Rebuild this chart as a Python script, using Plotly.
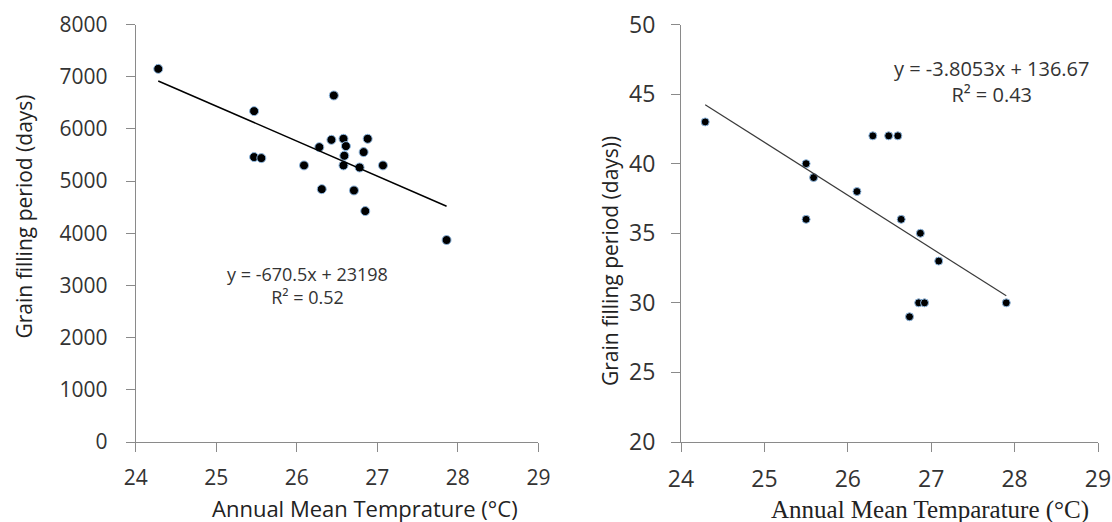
import plotly.graph_objects as go

# ---- data: left panel ----
temp_left = [24.28, 25.47, 25.47, 25.56, 26.09, 26.28, 26.43, 26.46, 26.58, 26.61,
             26.59, 26.58, 26.78, 26.83, 26.88, 27.07, 26.31, 26.71, 26.85, 27.86]
gfp_left = [7150, 6340, 5460, 5440, 5300, 5650, 5790, 6640, 5810, 5670,
            5485, 5300, 5260, 5555, 5810, 5300, 4845, 4820, 4425, 3870]
fit_left = [-670.5, 23198]   # slope, intercept
r2_left = 0.52

# ---- data: right panel ----
temp_right = [24.29, 25.50, 25.59, 26.11, 25.50, 26.30, 26.49, 26.60, 26.64, 26.87,
              27.09, 26.74, 26.85, 26.92, 27.90]
gfp_right = [43, 40, 39, 38, 36, 42, 42, 42, 36, 35,
             33, 29, 30, 30, 30]
fit_right = [-3.8053, 136.67]
r2_right = 0.43

x_ticks = [24, 25, 26, 27, 28, 29]
y_ticks_left = [0, 1000, 2000, 3000, 4000, 5000, 6000, 7000, 8000]
y_ticks_right = [20, 25, 30, 35, 40, 45, 50]

W, H = 1112, 522
def px(x):
    return x / W
def py(y):
    return 1 - y / H

fig = go.Figure()

# scatter points
fig.add_trace(go.Scatter(x=temp_left, y=gfp_left, mode="markers",
                         marker=dict(size=9, color="black", line=dict(color="#8fb8e0", width=1)),
                         xaxis="x", yaxis="y", showlegend=False, cliponaxis=False))
fig.add_trace(go.Scatter(x=temp_right, y=gfp_right, mode="markers",
                         marker=dict(size=8, color="black", line=dict(color="#8fb8e0", width=1)),
                         xaxis="x2", yaxis="y2", showlegend=False, cliponaxis=False))

# trendlines
xl = [min(temp_left), max(temp_left)]
fig.add_trace(go.Scatter(x=xl, y=[fit_left[0] * v + fit_left[1] for v in xl], mode="lines",
                         line=dict(color="black", width=1.5), xaxis="x", yaxis="y", showlegend=False))
xr = [min(temp_right), max(temp_right)]
fig.add_trace(go.Scatter(x=xr, y=[fit_right[0] * v + fit_right[1] for v in xr], mode="lines",
                         line=dict(color="#3a3a3a", width=1.2), xaxis="x2", yaxis="y2", showlegend=False))

axis_common = dict(showgrid=False, zeroline=False, showline=True, linecolor="#8a8a8a", linewidth=1,
                   ticks="outside", tickcolor="#8a8a8a", ticklen=9, tickwidth=1, automargin=False)
tick_font = dict(family="Open Sans", size=21, color="#333333")
tick_font_r = dict(family="Open Sans", size=23, color="#333333")
ydom = [py(442), py(24.5)]

fig.update_layout(
    template="none",
    width=W, height=H,
    margin=dict(l=0, r=0, t=0, b=0, pad=0),
    paper_bgcolor="white", plot_bgcolor="white",
    xaxis=dict(domain=[px(135.7), px(538.4)], range=[24, 29], tickvals=x_ticks,
               tickfont=tick_font, ticklabelstandoff=8, anchor="y", **axis_common),
    yaxis=dict(domain=ydom, range=[0, 8000], tickvals=y_ticks_left,
               tickfont=tick_font, ticklabelstandoff=14, anchor="x", **axis_common),
    xaxis2=dict(domain=[px(681), px(1098)], range=[24, 29], tickvals=x_ticks,
                tickfont=tick_font_r, ticklabelstandoff=7, anchor="y2", **axis_common),
    yaxis2=dict(domain=ydom, range=[20, 50], tickvals=y_ticks_right,
                tickfont=tick_font_r, ticklabelstandoff=11, anchor="x2", **axis_common),
)

def eq_text(fit, r2):
    sign = "+" if fit[1] >= 0 else "-"
    return f"y = {fit[0]:g}x {sign} {abs(fit[1]):g}<br>R² = {r2:.2f}"

annos = [
    dict(text="Grain filling period (days)", x=px(23), y=py(216.5), textangle=-90,
         font=dict(family="Open Sans", size=21, color="#222222")),
    dict(text="Grain filling period (days))", x=px(610), y=py(261), textangle=-90,
         font=dict(family="Open Sans", size=21, color="#222222")),
    dict(text="Annual Mean Temprature (°C)", x=px(365), y=py(508),
         font=dict(family="Open Sans", size=22, color="#222222")),
    dict(text="Annual Mean Temparature (°C)", x=px(930), y=py(510),
         font=dict(family="Liberation Serif", size=25, color="#222222")),
    dict(text=eq_text(fit_left, r2_left), x=px(307), y=py(285),
         font=dict(family="Open Sans", size=18, color="#333333")),
    dict(text=eq_text(fit_right, r2_right), x=px(991), y=py(81.5),
         font=dict(family="Open Sans", size=20, color="#333333")),
]
for a in annos:
    a.update(xref="paper", yref="paper", showarrow=False, xanchor="center", yanchor="middle")
fig.update_layout(annotations=annos)

fig.write_html("out.html", config={"displayModeBar": False},
               post_script="document.body.style.margin='0';document.body.style.overflow='hidden';")
